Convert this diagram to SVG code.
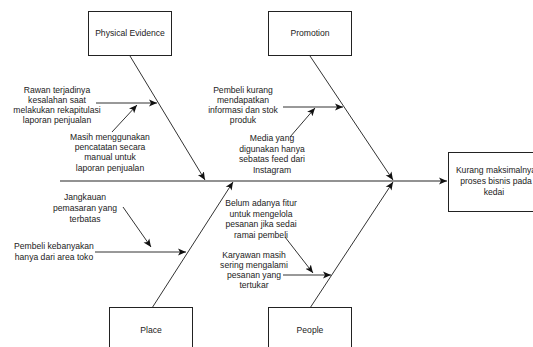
<svg xmlns="http://www.w3.org/2000/svg" width="533" height="347" viewBox="0 0 533 347">
  <style>
    .box { fill: #ffffff; stroke: #222222; stroke-width: 1; }
    .lbl { font-family: "Liberation Sans", Arial, sans-serif; font-size: 8.6px; fill: #222222; text-anchor: middle; }
    .bone { stroke: #333333; stroke-width: 1; fill: none; marker-end: url(#arr); }
    .spine { stroke: #6e6e6e; stroke-width: 1.6; fill: none; marker-end: url(#arr); }
  </style>
  <defs>
    <marker id="arr" markerUnits="userSpaceOnUse" markerWidth="10" markerHeight="10" viewBox="0 0 10 10" refX="8" refY="5" orient="auto">
      <path d="M0,1.5 L8,5 L0,8.5 L2,5 Z" fill="#111111"/>
    </marker>
  </defs>

  <rect width="533" height="347" fill="#ffffff"/>

  <!-- connectors: spine, category bones and cause arrows -->
  <g id="connectors">
    <line class="spine" x1="60" y1="181" x2="447" y2="181"/>
    <line class="bone" x1="130" y1="56" x2="205" y2="180"/>
    <line class="bone" x1="310" y1="56" x2="393" y2="180"/>
    <line class="bone" x1="152" y1="308" x2="233" y2="182"/>
    <line class="bone" x1="310" y1="308" x2="393" y2="182"/>
    <line class="bone" x1="96" y1="103" x2="157" y2="103"/>
    <line class="bone" x1="112" y1="132" x2="137" y2="105"/>
    <line class="bone" x1="283" y1="107" x2="343" y2="107"/>
    <line class="bone" x1="290" y1="137" x2="315" y2="108"/>
    <line class="bone" x1="95" y1="252" x2="186" y2="252"/>
    <line class="bone" x1="123" y1="207" x2="151" y2="247"/>
    <line class="bone" x1="283" y1="275" x2="331" y2="275"/>
    <line class="bone" x1="285" y1="237" x2="313" y2="273"/>
  </g>

  <!-- category boxes -->
  <g id="physical-evidence">
    <rect class="box" x="88.5" y="11.5" width="83" height="44"/>
    <text class="lbl" x="130" y="36">Physical Evidence</text>
  </g>
  <g id="promotion">
    <rect class="box" x="268.5" y="11.5" width="83" height="44"/>
    <text class="lbl" x="310" y="36">Promotion</text>
  </g>
  <g id="place">
    <rect class="box" x="109.5" y="307.5" width="83" height="44"/>
    <text class="lbl" x="151" y="333">Place</text>
  </g>
  <g id="people">
    <rect class="box" x="268.5" y="307.5" width="83" height="44"/>
    <text class="lbl" x="310" y="333">People</text>
  </g>

  <!-- effect box -->
  <g id="effect">
    <rect class="box" x="448.5" y="152.5" width="92" height="59"/>
    <text class="lbl" x="496" y="173">Kurang maksimalnya</text>
    <text class="lbl" x="496" y="184">proses bisnis pada</text>
    <text class="lbl" x="494" y="195">kedai</text>
  </g>

  <!-- cause labels -->
  <g id="cause-rawan">
    <text class="lbl" x="57" y="93">Rawan terjadinya</text>
    <text class="lbl" x="57" y="103">kesalahan saat</text>
    <text class="lbl" x="57" y="113">melakukan rekapitulasi</text>
    <text class="lbl" x="57" y="123">laporan penjualan</text>
  </g>
  <g id="cause-masih">
    <text class="lbl" x="110" y="140">Masih menggunakan</text>
    <text class="lbl" x="110" y="150">pencatatan secara</text>
    <text class="lbl" x="110" y="160">manual untuk</text>
    <text class="lbl" x="110" y="170.5">laporan penjualan</text>
  </g>
  <g id="cause-pembeli-kurang">
    <text class="lbl" x="243" y="93">Pembeli kurang</text>
    <text class="lbl" x="243" y="103">mendapatkan</text>
    <text class="lbl" x="243" y="113">informasi dan stok</text>
    <text class="lbl" x="243" y="123">produk</text>
  </g>
  <g id="cause-media">
    <text class="lbl" x="272" y="141">Media yang</text>
    <text class="lbl" x="272" y="151.5">digunakan hanya</text>
    <text class="lbl" x="272" y="162">sebatas feed dari</text>
    <text class="lbl" x="272" y="172.5">Instagram</text>
  </g>
  <g id="cause-jangkauan">
    <text class="lbl" x="85" y="200">Jangkauan</text>
    <text class="lbl" x="85" y="211">pemasaran yang</text>
    <text class="lbl" x="85" y="222">terbatas</text>
  </g>
  <g id="cause-pembeli-area">
    <text class="lbl" x="54" y="249">Pembeli kebanyakan</text>
    <text class="lbl" x="54" y="260">hanya dari area toko</text>
  </g>
  <g id="cause-belum">
    <text class="lbl" x="261" y="206">Belum adanya fitur</text>
    <text class="lbl" x="261" y="216.5">untuk mengelola</text>
    <text class="lbl" x="261" y="227">pesanan jika sedai</text>
    <text class="lbl" x="261" y="237.5">ramai pembeli</text>
  </g>
  <g id="cause-karyawan">
    <text class="lbl" x="254" y="258">Karyawan masih</text>
    <text class="lbl" x="254" y="268">sering mengalami</text>
    <text class="lbl" x="254" y="278">pesanan yang</text>
    <text class="lbl" x="254" y="288">tertukar</text>
  </g>
</svg>
